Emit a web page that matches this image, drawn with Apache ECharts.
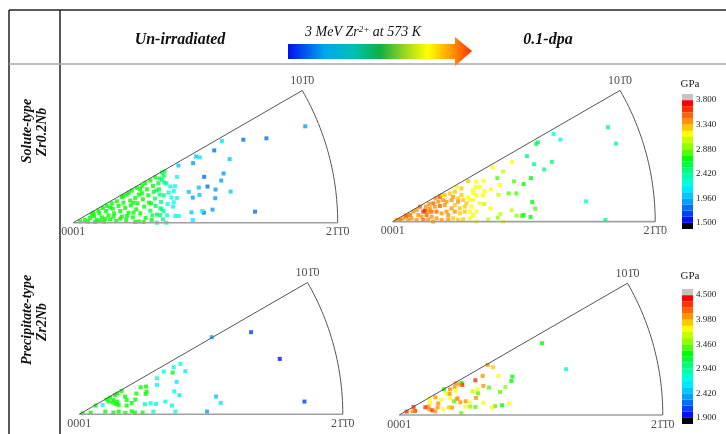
<!DOCTYPE html>
<html>
<head>
<meta charset="utf-8">
<script src="https://cdn.jsdelivr.net/npm/echarts@6/dist/echarts.min.js"></script>
<style>
  html, body { margin: 0; padding: 0; background: #fff; }
  #main { width: 726px; height: 434px; }
</style>
</head>
<body>
<div id="main"></div>
<script>
// ---------------- data ----------------
// IPF positions in projected units (sector radius R), third value = hardness (GPa)
const R = 790;
const poleLabels = ["0001", "101\u03040", "21\u03041\u03040"];
const colLabels = ["Un-irradiated", "0.1-dpa"];
const rowLabels = [["Solute-type", "Zr0.2Nb"], ["Precipitate-type", "Zr2Nb"]];
const jetColors = ["#0010ff", "#0040ff", "#0070ff", "#00a0ff", "#00c8ff", "#00e8ff", "#00ffe0", "#00ffb0", "#00ff80", "#00ff40",
  "#00ff00", "#50ff00", "#90ff00", "#c8ff00", "#ffff00", "#ffc800", "#ff9600", "#ff6400", "#ff3200", "#ff0000"];
const underColor = "#000000";
const overColor = "#c4c4c4";
const rangeTop = [1.5, 3.8];
const rangeBottom = [1.9, 4.5];
const ticksTop = ["1.500", "1.960", "2.420", "2.880", "3.340", "3.800"];
const ticksBottom = ["1.900", "2.420", "2.940", "3.460", "3.980", "4.500"];

const soluteUnirr = [
  // outer blue / light blue
  [693,288,1.85],[508,248,1.8],[577,252,1.8],[421,216,1.8],[444,244,2.1],[367,198,2.05],[378,195,2.15],[358,178,1.85],
  [314,171,2.05],[467,190,2.0],[449,147,1.85],[391,137,1.8],[442,126,1.9],[401,108,1.8],[375,105,2.0],[425,99,1.85],
  [470,93,2.0],[345,92,2.05],[377,83,2.0],[357,75,1.9],[424,73,1.85],[543,33,1.8],[416,39,1.85],[390,30,1.8],
  [385,35,2.2],[353,31,2.05],[357,8,2.1],
  // cyan
  [310,137,2.25],[304,109,2.25],[310,74,2.2],[265,128,2.4],[278,118,2.35],[290,108,2.3],[300,95,2.25],[285,90,2.35],
  [270,82,2.45],[293,75,2.25],[300,61,2.2],[282,56,2.3],[298,48,2.2],[260,43,2.4],[270,35,2.35],[305,20,2.2],
  [315,20,2.2],[280,22,2.3],[260,23,2.45],[250,0,2.45],[278,0,2.35],[273,153,2.55],[265,150,2.6],
  // green
  [20,4,2.7],[35,8,2.7],[45,3,2.7],[50,14,2.7],[62,20,2.7],[70,8,2.7],[78,28,2.7],[85,16,2.7],[92,3,2.7],[98,35,2.7],
  [105,22,2.7],[110,10,2.7],[118,42,2.7],[122,28,2.7],[128,5,2.7],[135,50,2.7],[140,35,2.7],[145,18,2.7],[150,60,2.7],
  [155,44,2.7],[158,8,2.7],[165,30,2.7],[170,66,2.7],[172,52,2.7],[178,16,2.7],[185,74,2.7],[188,40,2.7],[192,58,2.7],
  [196,4,2.7],[200,28,2.7],[205,88,2.7],[208,70,2.7],[212,48,2.65],[216,14,2.7],[220,100,2.7],[224,82,2.65],[226,60,2.65],
  [230,36,2.6],[234,8,2.65],[238,110,2.65],[240,92,2.6],[244,72,2.6],[246,50,2.55],[250,24,2.55],[254,118,2.6],
  [256,100,2.55],[258,84,2.5],[262,62,2.5],[264,40,2.5],[268,10,2.45],[270,140,2.6],[272,120,2.5],[115,58,2.7],
  [100,50,2.7],[88,44,2.7],[130,64,2.7],[145,76,2.7],[160,84,2.7],[175,96,2.7],[190,104,2.7],[205,110,2.7],
  [215,118,2.7],[230,126,2.65],[245,136,2.65],[60,30,2.7],[75,36,2.7],[140,12,2.7],[180,30,2.7],[200,100,2.7],
  [166,90,2.7],[150,80,2.7],[120,18,2.7],[95,12,2.7],[55,25,2.7],[185,2,2.7],[210,2,2.65],[236,22,2.6],[258,132,2.6],
  [248,96,2.6],[232,58,2.65],[196,84,2.7],[180,60,2.7],[160,20,2.7],[110,46,2.7],[80,6,2.7],[65,2,2.7]
];

const soluteIrr = [
  // outer teal / cyan
  [648,284,2.45],[672,235,2.4],[484,264,2.3],[505,247,2.3],[437,239,2.5],[432,234,2.55],[404,197,2.5],[479,180,2.45],
  [425,173,2.5],[456,157,2.5],[582,61,2.25],[640,5,2.45],
  // green / yellow
  [359,180,3.17],[301,163,3.17],[332,151,3.0],[315,131,2.85],[416,131,2.72],[365,121,2.82],[394,113,2.72],[273,123,3.17],
  [322,110,3.17],[296,98,3.17],[349,85,2.85],[372,85,2.8],[318,81,3.0],[276,92,3.2],[420,59,2.72],[429,39,2.78],
  [358,34,3.0],[373,18,2.95],[389,17,2.8],[394,20,2.72],[415,14,2.72],[324,23,3.0],[316,12,2.9],[294,40,3.17],
  [287,7,3.1],[332,0,3.17],[252,0,3.2],[275,53,3.0],[250,105,3.2],[242,87,3.2],[227,122,3.25],[232,65,3.2],
  // orange / red near 0001
  [97,33,3.74],[142,75,3.6],[152,65,3.42],[137,60,3.45],[122,55,3.5],[110,53,3.42],[100,45,3.45],[112,40,3.4],
  [127,45,3.42],[142,47,3.5],[157,50,3.4],[162,60,3.38],[52,20,3.5],[42,15,3.45],[32,10,3.42],[22,5,3.55],[62,30,3.42],
  [57,10,3.4],[77,20,3.45],[87,15,3.42],[102,20,3.5],[117,15,3.4],[132,10,3.42],[147,5,3.38],[122,0,3.45],[167,7,3.4],
  [182,10,3.32],[197,5,3.3],[212,7,3.25],[232,10,3.2],[172,85,3.3],[187,90,3.25],[182,75,3.38],[197,70,3.3],
  [207,80,3.25],[212,65,3.3],[227,73,3.2],[222,55,3.25],[237,45,3.2],[202,40,3.32],[177,40,3.38],[187,30,3.4],
  [202,25,3.3],[217,30,3.25],[232,30,3.2],[242,20,3.2],[242,95,3.2],[262,105,3.2],[252,80,3.2],[272,80,3.15],
  [82,45,3.5],[72,35,3.45],[132,30,3.55],[147,25,3.42],[162,30,3.4],[167,20,3.38],[92,30,3.6],[107,30,3.45],
  [157,80,3.32],[192,104,3.2],[207,100,3.25],[177,65,3.4],[40,18,3.5],[12,5,3.42],[47,5,3.45],[72,5,3.42],[92,5,3.5],
  [107,7,3.42],[117,30,3.55],[129,70,3.4],[147,80,3.32],[187,50,3.3],[197,60,3.38],[217,45,3.25],[252,30,3.2],
  [262,55,3.2],[242,65,3.2],[252,120,3.2]
];

const precipUnirr = [
  [397,231,2.35],[515,246,2.1],[601,166,2.0],[675,38,2.15],[383,8,2.35],[410,53,2.48],[424,34,2.6],
  [253,128,2.72],[283,141,2.72],[303,151,2.72],[318,129,2.65],[280,125,3.26],[233,108,2.72],[233,88,2.72],
  [292,97,2.65],[285,69,2.72],[300,57,2.65],[258,38,2.75],[278,26,2.75],[288,8,2.7],[230,31,2.75],[214,33,2.8],
  [222,8,2.75],[197,30,2.9],[184,81,3.26],[200,83,3.26],[202,68,3.2],[199,61,3.26],[171,62,3.26],[157,34,3.26],
  [168,44,3.2],[142,26,3.26],[190,5,3.2],[167,5,3.26],[157,9,3.26],[138,4,3.26],[118,8,3.26],[102,5,3.26],[78,8,3.26],
  [34,5,3.26],[10,3,3.26],[49,26,3.26],[70,28,2.8],[82,44,3.26],[92,50,3.26],[102,43,3.26],[107,58,3.26],[114,62,3.26],
  [127,70,3.26],[114,38,3.26],[110,31,3.26],[118,28,3.2],[137,53,3.26],[142,43,3.26],[100,35,3.26],[88,38,3.2]
];

const precipIrr = [
  [428,215,3.3],[500,137,2.75],[265,150,4.05],[281,143,3.95],[250,117,4.0],[297,117,3.78],[339,115,3.3],[336,102,3.3],
  [318,84,3.55],[269,82,3.4],[252,87,4.0],[228,104,4.35],[234,77,3.78],[236,65,3.35],[220,71,3.6],[302,69,3.45],
  [230,51,4.05],[252,37,3.78],[287,26,3.35],[308,29,3.3],[330,35,3.75],[278,22,3.78],[228,24,3.45],[198,25,3.8],
  [212,37,3.78],[186,5,3.4],[183,38,4.05],[172,47,4.1],[187,96,3.3],[189,90,4.3],[180,92,4.05],[169,95,4.05],
  [166,84,4.1],[152,77,4.0],[134,77,3.3],[169,73,3.78],[141,64,3.78],[151,63,4.05],[175,50,4.05],[152,50,3.78],
  [164,41,3.45],[158,22,4.05],[132,17,3.78],[115,23,4.05],[117,35,4.1],[125,45,3.78],[108,53,4.05],[90,49,3.78],
  [92,37,3.8],[87,25,4.1],[78,23,4.3],[90,17,4.05],[99,14,4.25],[108,11,4.0],[43,24,4.35],[47,12,4.3],[40,11,4.1],
  [22,10,4.25],[212,25,3.5],[149,23,3.9],[199,41,4.05]
];

// ---------------- chart ----------------
const FONT = "'Liberation Serif', 'Times New Roman', serif";
let chartDom = document.getElementById("main");
let myChart = echarts.init(chartDom);

// panel layout (apex of each sector = grid bottom-left)
const panels = [
  { data: soluteUnirr, left: 73.3, top: 90.5, size: 264.4, range: rangeTop },
  { data: soluteIrr, left: 392.7, top: 90.4, size: 262.5, range: rangeTop },
  { data: precipUnirr, left: 79.3, top: 282.5, size: 263.5, range: rangeBottom },
  { data: precipIrr, left: 399.3, top: 283.2, size: 263.5, range: rangeBottom }
];
const colorbars = [
  { top: 94, ticks: ticksTop, titleY: 84 },
  { top: 289, ticks: ticksBottom, titleY: 276 }
];

function pieces(range) {
  const step = (range[1] - range[0]) / jetColors.length;
  return jetColors.map((c, i) => ({ gte: range[0] + i * step, lt: range[0] + (i + 1) * step, color: c }));
}

const cos30 = Math.cos(Math.PI / 6);
const arc = [];
for (let a = 30; a >= 0; a -= 1) {
  const t = a * Math.PI / 180;
  arc.push([R * Math.cos(t), R * Math.sin(t)]);
}

let grid = [], xAxis = [], yAxis = [], series = [];

panels.forEach((p, i) => {
  grid.push({ left: p.left, top: p.top, width: p.size, height: p.size / 2 });
  xAxis.push({ gridIndex: i, type: "value", min: 0, max: R, show: false });
  yAxis.push({ gridIndex: i, type: "value", min: 0, max: R / 2, show: false });
});
colorbars.forEach((c, k) => {
  grid.push({ left: 682, top: c.top, width: 11, height: 135 });
  xAxis.push({ gridIndex: 4 + k, type: "category", data: ["GPa"], show: false });
  yAxis.push({
    gridIndex: 4 + k, type: "value", min: 0, max: 22, interval: 1, position: "right",
    axisLine: { show: false }, axisTick: { show: false }, splitLine: { show: false },
    axisLabel: {
      margin: 3, fontSize: 9, fontFamily: FONT, color: "#222",
      formatter: (v) => (v >= 1 && (v - 1) % 4 === 0 ? c.ticks[(v - 1) / 4] : "")
    }
  });
});

// scatter points (series 0-3)
panels.forEach((p, i) => {
  series.push({
    type: "scatter", xAxisIndex: i, yAxisIndex: i, symbol: "rect", symbolSize: 4,
    data: p.data, silent: true
  });
});
// sector outline + pole labels
panels.forEach((p, i) => {
  series.push({
    type: "line", xAxisIndex: i, yAxisIndex: i, symbol: "none", silent: true, clip: false,
    data: [[0, 0], [R, 0]], lineStyle: { color: "#a0a0a0", width: 1.6 }
  });
  series.push({
    type: "line", xAxisIndex: i, yAxisIndex: i, symbol: "none", silent: true, clip: false,
    data: [[0, 0], [R * cos30, R / 2]].concat(arc), lineStyle: { color: "#555", width: 1 }
  });
  series.push({
    type: "scatter", xAxisIndex: i, yAxisIndex: i, symbolSize: 1, silent: true, clip: false,
    itemStyle: { color: "rgba(0,0,0,0)" },
    label: { show: true, formatter: "{b}", fontFamily: FONT, fontSize: 12, color: "#222", distance: 3 },
    data: [
      { name: poleLabels[0], value: [0, 0], label: { position: "bottom" } },
      { name: poleLabels[1], value: [R * cos30, R / 2], label: { position: "top" } },
      { name: poleLabels[2], value: [R, 0], label: { position: "bottom" } }
    ]
  });
});
// colour bars
const cbColors = [underColor].concat(jetColors, [overColor]);
colorbars.forEach((c, k) => {
  cbColors.forEach((col) => {
    series.push({
      type: "bar", xAxisIndex: 4 + k, yAxisIndex: 4 + k, stack: "cb" + k, data: [1],
      barWidth: "100%", silent: true, itemStyle: { color: col }
    });
  });
});

const option = {
  animation: false,
  grid: grid,
  xAxis: xAxis,
  yAxis: yAxis,
  visualMap: [
    { type: "piecewise", show: false, dimension: 2, seriesIndex: [0, 1], pieces: pieces(rangeTop) },
    { type: "piecewise", show: false, dimension: 2, seriesIndex: [2, 3], pieces: pieces(rangeBottom) }
  ],
  graphic: [
    // table lines
    { type: "line", shape: { x1: 9, y1: 10, x2: 726, y2: 10 }, style: { stroke: "#222", lineWidth: 1.5 } },
    { type: "line", shape: { x1: 9, y1: 10, x2: 9, y2: 434 }, style: { stroke: "#222", lineWidth: 1.5 } },
    { type: "line", shape: { x1: 60, y1: 10, x2: 60, y2: 434 }, style: { stroke: "#222", lineWidth: 1.5 } },
    { type: "line", shape: { x1: 9, y1: 64, x2: 726, y2: 64 }, style: { stroke: "#aaa", lineWidth: 1.5 } },
    // column headers
    { type: "text", x: 180, y: 40, style: { text: colLabels[0], font: "italic bold 16px " + FONT, fill: "#111", align: "center", verticalAlign: "middle" } },
    { type: "text", x: 548, y: 40, style: { text: colLabels[1], font: "italic bold 16px " + FONT, fill: "#111", align: "center", verticalAlign: "middle" } },
    // irradiation arrow
    {
      type: "polygon",
      shape: { points: [[288, 44], [455, 44], [455, 37], [472, 51], [455, 66], [455, 59], [288, 59]] },
      style: {
        fill: {
          type: "linear", x: 0, y: 0, x2: 1, y2: 0,
          colorStops: [
            { offset: 0, color: "#0010ee" }, { offset: 0.2, color: "#00a8ee" }, { offset: 0.36, color: "#00c0b0" },
            { offset: 0.5, color: "#10b040" }, { offset: 0.64, color: "#a0d820" }, { offset: 0.76, color: "#ffff00" },
            { offset: 0.88, color: "#ffa000" }, { offset: 1, color: "#ff3000" }
          ]
        }
      }
    },
    {
      type: "text", x: 363, y: 32,
      style: {
        text: "{a|3 MeV Zr}{s|2+}{a| at 573 K}", align: "center", verticalAlign: "middle",
        rich: {
          a: { fontSize: 14, fontStyle: "italic", fontFamily: FONT, fill: "#111" },
          s: { fontSize: 9, fontStyle: "italic", fontFamily: FONT, fill: "#111", verticalAlign: "top" }
        }
      }
    },
    // row headers
    { type: "text", x: 27, y: 131, rotation: Math.PI / 2, style: { text: rowLabels[0][0], font: "italic bold 14px " + FONT, fill: "#111", align: "center", verticalAlign: "middle" } },
    { type: "text", x: 42, y: 132, rotation: Math.PI / 2, style: { text: rowLabels[0][1], font: "italic bold 14px " + FONT, fill: "#111", align: "center", verticalAlign: "middle" } },
    { type: "text", x: 27, y: 320, rotation: Math.PI / 2, style: { text: rowLabels[1][0], font: "italic bold 14px " + FONT, fill: "#111", align: "center", verticalAlign: "middle" } },
    { type: "text", x: 42, y: 322, rotation: Math.PI / 2, style: { text: rowLabels[1][1], font: "italic bold 14px " + FONT, fill: "#111", align: "center", verticalAlign: "middle" } },
    // colour bar units
    { type: "text", x: 690, y: colorbars[0].titleY, style: { text: "GPa", font: "11px " + FONT, fill: "#222", align: "center", verticalAlign: "middle" } },
    { type: "text", x: 690, y: colorbars[1].titleY, style: { text: "GPa", font: "11px " + FONT, fill: "#222", align: "center", verticalAlign: "middle" } }
  ],
  series: series
};
myChart.setOption(option);

window.onresize = function () {
  myChart.resize();
};
</script>
</body>
</html>
